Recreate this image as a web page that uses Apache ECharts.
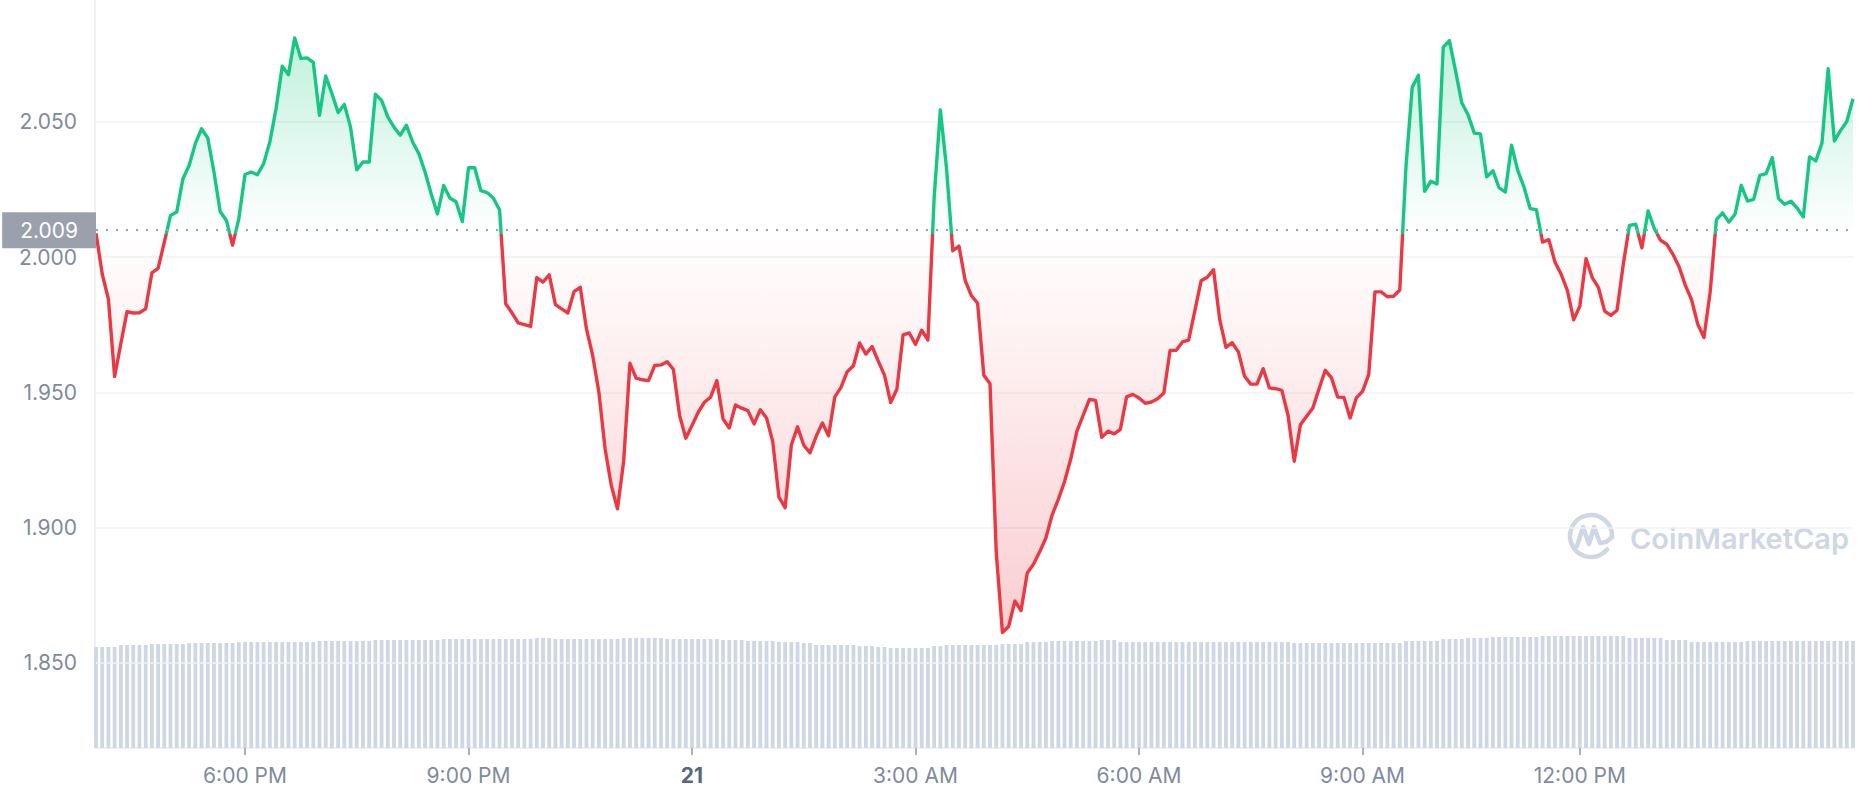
<!DOCTYPE html>
<html>
<head>
<meta charset="utf-8">
<script src="https://cdn.jsdelivr.net/npm/echarts@6/dist/echarts.min.js"></script>
<style>
html,body{margin:0;padding:0;background:#ffffff;}
#chart{width:1858px;height:800px;}
</style>
</head>
<body>
<div id="chart"></div>
<script>
// ---- data (5-minute samples, 24h window) ----
const prices = [
  2.009, 1.9938, 1.9845, 1.9559, 1.968, 1.9799, 1.9794, 1.9795, 1.9809, 1.9942,
  1.9959, 2.0055, 2.0154, 2.0167, 2.029, 2.0339, 2.042, 2.0475, 2.0441, 2.0315,
  2.0169, 2.0136, 2.0045, 2.0142, 2.0306, 2.0315, 2.0305, 2.0346, 2.0426, 2.0549,
  2.0706, 2.0675, 2.0811, 2.0735, 2.0737, 2.072, 2.0525, 2.067, 2.0605, 2.0535,
  2.0565, 2.0481, 2.0323, 2.0352, 2.0352, 2.0603, 2.058, 2.0519, 2.0481, 2.0451,
  2.0488, 2.0426, 2.0383, 2.0315, 2.0234, 2.016, 2.0265, 2.0219, 2.0205, 2.0132,
  2.0331, 2.0331, 2.0246, 2.0239, 2.0218, 2.0175, 1.9828, 1.9794, 1.9757, 1.9751,
  1.9744, 1.9925, 1.9908, 1.9935, 1.9825, 1.9809, 1.9794, 1.9873, 1.9889, 1.9735,
  1.9637, 1.9501, 1.9292, 1.9156, 1.907, 1.9248, 1.9608, 1.9553, 1.9547, 1.9544,
  1.96, 1.9602, 1.9614, 1.9585, 1.9415, 1.9331, 1.9378, 1.9427, 1.9464, 1.9483,
  1.9544, 1.9402, 1.9369, 1.9454, 1.9442, 1.9433, 1.9384, 1.9436, 1.9406, 1.9319,
  1.9113, 1.9074, 1.9306, 1.9373, 1.9305, 1.9277, 1.9338, 1.9387, 1.934, 1.9484,
  1.9519, 1.9577, 1.9599, 1.9683, 1.9642, 1.967, 1.9616, 1.9564, 1.9463, 1.9512,
  1.9713, 1.972, 1.9678, 1.973, 1.9694, 2.022, 2.0545, 2.0328, 2.0024, 2.0041,
  1.9914, 1.9858, 1.983, 1.9564, 1.9532, 1.891, 1.8613, 1.8635, 1.8729, 1.8694,
  1.8833, 1.8865, 1.8911, 1.8962, 1.9047, 1.9105, 1.917, 1.9254, 1.9357, 1.9415,
  1.9474, 1.9471, 1.9334, 1.9357, 1.9347, 1.9364, 1.9484, 1.9493, 1.948, 1.946,
  1.9465, 1.9477, 1.9498, 1.9655, 1.9656, 1.9687, 1.9694, 1.9803, 1.9913, 1.9926,
  1.9954, 1.9769, 1.9667, 1.9684, 1.965, 1.956, 1.9531, 1.9531, 1.9588, 1.9517,
  1.9514, 1.9508, 1.9416, 1.9246, 1.9381, 1.9412, 1.9443, 1.9514, 1.9582, 1.9554,
  1.9483, 1.9482, 1.9406, 1.948, 1.9504, 1.9566, 1.9872, 1.9872, 1.9854, 1.9856,
  1.9879, 2.0336, 2.0628, 2.0673, 2.0244, 2.0281, 2.0271, 2.0777, 2.0801, 2.0687,
  2.057, 2.0527, 2.0459, 2.0456, 2.0297, 2.032, 2.0257, 2.0241, 2.0414, 2.0321,
  2.026, 2.018, 2.0176, 2.0056, 2.0065, 1.9982, 1.9937, 1.9877, 1.9769, 1.9819,
  1.9995, 1.9925, 1.9888, 1.9801, 1.9785, 1.9804, 1.9974, 2.0118, 2.0122, 2.0035,
  2.0171, 2.0106, 2.0063, 2.0048, 2.0011, 1.9964, 1.9896, 1.9843, 1.9752, 1.9703,
  1.9872, 2.0139, 2.0164, 2.013, 2.0159, 2.0266, 2.0208, 2.0214, 2.0303, 2.0309,
  2.0368, 2.0217, 2.0196, 2.0207, 2.0182, 2.0149, 2.0371, 2.0356, 2.0422, 2.0697,
  2.043, 2.0469, 2.0502, 2.0586
];

const volumes = [
  101,101,101,101,103,103,103,103,103,104,104,104,104,104,104,105,105,105,105,105,
  105,105,105,106,106,106,106,106,106,106,106,106,106,106,106,106,107,107,107,107,
  107,107,107,107,107,108,108,108,108,108,108,108,108,108,108,108,109,109,109,109,
  109,109,109,109,109,109,109,109,109,109,109,110,110,110,109,109,109,109,109,109,
  109,109,109,109,109,110,110,110,110,110,110,110,109,109,109,109,109,109,109,109,
  109,108,108,108,108,107,107,107,107,107,106,106,106,106,105,105,103,103,103,103,
  103,103,103,102,102,102,101,101,100,100,100,100,100,100,100,102,102,103,103,103,
  103,103,103,103,103,103,104,104,104,104,106,106,106,106,107,107,107,107,107,107,
  107,107,108,108,108,106,106,106,106,106,106,106,106,106,106,106,106,106,106,106,
  106,106,106,106,106,106,106,106,106,106,106,106,106,105,105,105,105,105,105,105,
  105,105,105,105,105,105,105,105,105,105,105,107,107,107,107,107,107,109,109,109,
  109,110,110,110,110,111,111,111,111,111,111,111,111,112,112,112,112,112,112,112,
  112,112,112,112,112,112,112,110,110,110,110,110,110,108,108,108,108,106,106,106,
  106,106,106,106,106,106,107,107,107,107,107,107,107,107,107,107,107,107,107,107,
  107,107,107,107
];

const openPrice = 2.0086;
const tickIndex = [24, 60, 96, 132, 168, 204, 239];
const tickLabels = ['6:00 PM', '9:00 PM', '21', '3:00 AM', '6:00 AM', '9:00 AM', '12:00 PM'];
const boldLabels = ['21'];

// ---- chart ----
const GREEN = '#16c784';
const RED = '#ea3943';
const LABEL = '#808a9d';
const GRID = '#eff2f5';
const FONT = 'Inter, "Noto Sans", sans-serif';
const NONE = 'rgba(0,0,0,0)';

const categories = prices.map((_, i) => String(i));
const maxP = Math.max.apply(null, prices);
const minP = Math.min.apply(null, prices);
const split = (maxP - openPrice) / (maxP - minP);

const chart = echarts.init(document.getElementById('chart'), null, { renderer: 'svg', width: 1858, height: 800 });

const tickFn = function (index) { return tickIndex.indexOf(index) >= 0; };

const option = {
  animation: false,
  backgroundColor: '#ffffff',
  textStyle: { fontFamily: FONT },
  grid: [
    { left: 96, right: 5, top: 0, bottom: 1.75 },
    { left: 96, right: 5, top: 636, bottom: 52 },
    { left: 95, width: 1, top: 0, bottom: 52 }
  ],
  xAxis: [
    { type: 'category', gridIndex: 0, data: categories, boundaryGap: false, show: false },
    {
      type: 'category', gridIndex: 1, data: categories, boundaryGap: false,
      axisLine: { show: true, lineStyle: { color: GRID, width: 2 } },
      axisTick: { show: true, interval: tickFn, length: 7, lineStyle: { color: '#8f98aa', width: 1.5 } },
      splitLine: { show: false },
      axisLabel: {
        interval: tickFn,
        margin: 17,
        color: LABEL,
        fontSize: 21,
        fontFamily: FONT,
        formatter: function (value) {
          const k = tickIndex.indexOf(Number(value));
          if (k < 0) return '';
          const t = tickLabels[k];
          return boldLabels.indexOf(t) >= 0 ? '{b|' + t + '}' : t;
        },
        rich: { b: { fontWeight: 'bold', color: '#58667e', fontSize: 21, fontFamily: FONT } }
      }
    },
    { type: 'category', gridIndex: 2, data: ['a'], show: false }
  ],
  yAxis: [
    {
      type: 'value', gridIndex: 0, min: 1.80, max: 2.0951, interval: 0.05, z: 1.5,
      axisLine: { show: false }, axisTick: { show: false },
      splitLine: { show: true, lineStyle: { color: [NONE, GRID, GRID, GRID, GRID, GRID, NONE, NONE], width: 1.5 } },
      axisLabel: {
        color: LABEL, fontSize: 21, fontFamily: FONT, margin: 19,
        formatter: function (v) { return (v < 1.84 || v > 2.09) ? '' : v.toFixed(3); }
      }
    },
    { type: 'value', gridIndex: 1, min: 0, max: 112, show: false },
    {
      type: 'value', gridIndex: 2, min: 0, max: 1, show: true,
      axisLine: { show: true, lineStyle: { color: GRID, width: 2 } },
      axisTick: { show: false }, axisLabel: { show: false }, splitLine: { show: false }
    }
  ],
  visualMap: {
    type: 'piecewise', show: false, seriesIndex: 0, dimension: 1,
    pieces: [
      { gt: openPrice, lte: 10, color: GREEN },
      { gt: -10, lte: openPrice, color: RED }
    ],
    outOfRange: { color: RED }
  },
  series: [
    {
      name: 'Price', type: 'line', xAxisIndex: 0, yAxisIndex: 0, data: prices,
      symbol: 'none', showSymbol: false, z: 3, silent: true,
      lineStyle: { width: 3.4, join: 'round' },
      areaStyle: {
        origin: openPrice,
        opacity: 1,
        color: new echarts.graphic.LinearGradient(0, 0, 0, 1, [
          { offset: 0, color: 'rgba(22,199,132,0.27)' },
          { offset: split, color: 'rgba(22,199,132,0)' },
          { offset: split, color: 'rgba(234,57,67,0)' },
          { offset: 1, color: 'rgba(234,57,67,0.25)' }
        ])
      },
      markLine: {
        silent: true, symbol: 'none', animation: false,
        data: [{ yAxis: openPrice }],
        lineStyle: { type: [2, 8], color: '#9aa1ad', width: 2 },
        label: {
          show: true, position: 'start', distance: 0,
          formatter: openPrice.toFixed(3),
          color: '#ffffff', fontSize: 21, fontFamily: FONT,
          backgroundColor: '#9aa1ad',
          padding: [7, 18, 7, 18],
          lineHeight: 22
        }
      }
    },
    {
      name: 'Volume', type: 'bar', xAxisIndex: 1, yAxisIndex: 1, data: volumes,
      barWidth: 3.8, z: 1, silent: true,
      itemStyle: { color: '#cfd6e4' }
    }
  ],
  graphic: [
    {
      type: 'group', x: 1591, y: 536, z: 0, silent: true,
      children: [
        { type: 'arc', shape: { cx: 0, cy: 0, r: 21, startAngle: Math.PI * 0.22, endAngle: Math.PI * 2.02 },
          style: { stroke: '#cfd6e4', fill: null, lineWidth: 4.5, lineCap: 'round' } },
        { type: 'polyline', shape: { points: [[-14, 10], [-8, -9], [-2, 8], [3, -9], [9, 7], [15, 6], [21, 1]] },
          style: { stroke: '#cfd6e4', fill: null, lineWidth: 4.5, lineJoin: 'round', lineCap: 'round' } }
      ]
    },
    {
      type: 'text', x: 1630, y: 538, z: 0, silent: true,
      style: { text: 'CoinMarketCap', font: '600 29px Inter', fill: '#cfd6e4', align: 'left', verticalAlign: 'middle' }
    }
  ]
};

chart.setOption(option);
</script>
</body>
</html>
